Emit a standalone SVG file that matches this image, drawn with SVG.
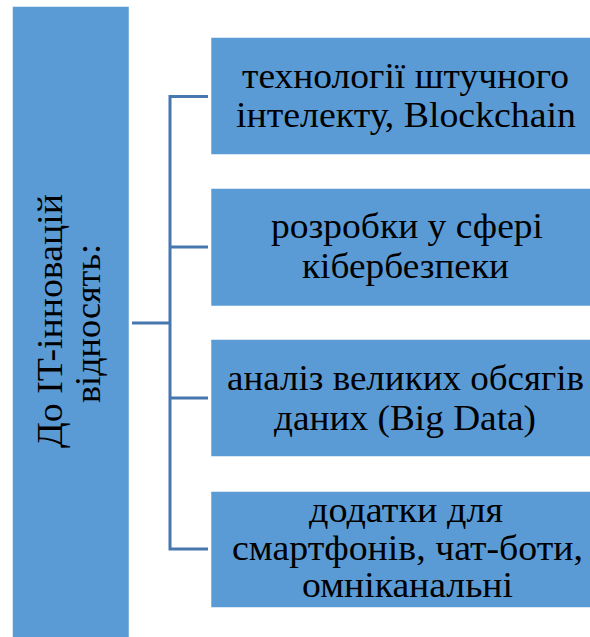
<svg xmlns="http://www.w3.org/2000/svg" width="590" height="637" viewBox="0 0 590 637">
<style>
.box{fill:#5B9BD5;stroke:#FFFFFF;stroke-width:1.5}
.conn{fill:none;stroke:#4677AE;stroke-width:3}
.t{font-family:"Liberation Serif","Times New Roman",serif;font-size:35px;fill:#000;text-anchor:middle}
</style>
<rect width="590" height="637" fill="#FFFFFF"/>
<g id="connectors">
<path class="conn" d="M132,323 H170"/>
<path class="conn" d="M208,96.5 H170 V549 H208"/>
<path class="conn" d="M170,247 H208"/>
<path class="conn" d="M170,398 H208"/>
</g>
<g id="root">
<rect class="box" x="12" y="6" width="117.5" height="633"/>
<text class="t" transform="translate(62,321) rotate(-90)" textLength="254" lengthAdjust="spacingAndGlyphs">До IT-інновацій</text>
<text class="t" transform="translate(100,323.5) rotate(-90)" textLength="159" lengthAdjust="spacingAndGlyphs">відносять:</text>
</g>
<g id="node1">
<rect class="box" x="210.5" y="37" width="390" height="118"/>
<text class="t" x="405.5" y="88" textLength="327" lengthAdjust="spacingAndGlyphs">технології штучного</text>
<text class="t" x="406" y="127" textLength="340" lengthAdjust="spacingAndGlyphs">інтелекту, Blockchain</text>
</g>
<g id="node2">
<rect class="box" x="210.5" y="188" width="390" height="118.5"/>
<text class="t" x="407" y="238" textLength="272" lengthAdjust="spacingAndGlyphs">розробки у сфері</text>
<text class="t" x="405.5" y="278" textLength="207" lengthAdjust="spacingAndGlyphs">кібербезпеки</text>
</g>
<g id="node3">
<rect class="box" x="210.5" y="339" width="390" height="118"/>
<text class="t" x="405.5" y="390" textLength="357" lengthAdjust="spacingAndGlyphs">аналіз великих обсягів</text>
<text class="t" x="405" y="430" textLength="262" lengthAdjust="spacingAndGlyphs">даних (Big Data)</text>
</g>
<g id="node4">
<rect class="box" x="210.5" y="491" width="390" height="117"/>
<text class="t" x="406" y="522" textLength="194" lengthAdjust="spacingAndGlyphs">додатки для</text>
<text class="t" x="407.5" y="560" textLength="351" lengthAdjust="spacingAndGlyphs">смартфонів, чат-боти,</text>
<text class="t" x="407.5" y="597" textLength="211" lengthAdjust="spacingAndGlyphs">омніканальні</text>
</g>
</svg>
